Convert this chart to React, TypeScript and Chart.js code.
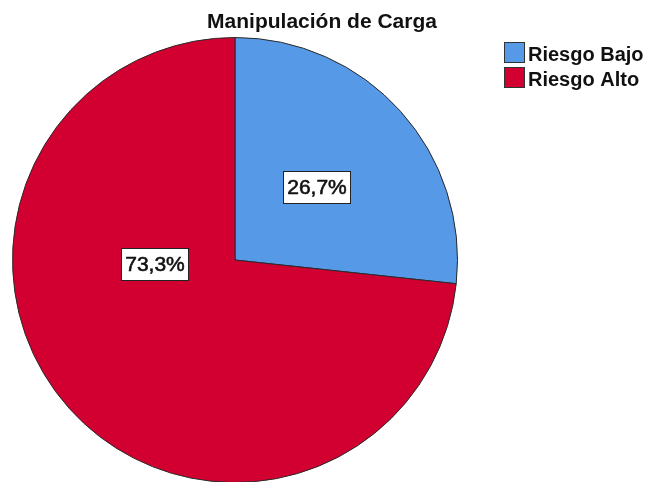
import React, { useEffect, useRef } from "react";
import { Chart, registerables } from "chart.js";

Chart.register(...registerables);

const title = "Manipulación de Carga";
const categories = ["Riesgo Bajo", "Riesgo Alto"];
const values = [26.7, 73.3];
const valueLabels = ["26,7%", "73,3%"];
const colors = ["#5699E6", "#D20030"];

const FONT = "'Liberation Sans', Arial, sans-serif";

const overlayPlugin = {
  id: "overlay",
  afterDraw(chart: any) {
    const ctx = chart.ctx as CanvasRenderingContext2D;
    const opts = chart.options.plugins.overlay;
    const meta = chart.getDatasetMeta(0);
    ctx.save();
    // value labels
    meta.data.forEach((arc: any, i: number) => {
      const p = arc.getProps(["x", "y", "startAngle", "endAngle", "outerRadius"], true);
      const ang = opts.labelAngles[i] != null ? opts.labelAngles[i] * Math.PI / 180 : (p.startAngle + p.endAngle) / 2;
      const r = p.outerRadius * opts.labelRadius[i];
      const cx = p.x + Math.cos(ang) * r;
      const cy = p.y + Math.sin(ang) * r;
      ctx.font = `21px ${FONT}`;
      const tw = ctx.measureText(valueLabels[i]).width;
      const w = Math.round(tw + 7);
      const h = 32;
      const x0 = Math.round(cx - w / 2) + 0.5;
      const y0 = Math.round(cy - h / 2) + 0.5;
      ctx.fillStyle = "#ffffff";
      ctx.fillRect(x0, y0, w, h);
      ctx.strokeStyle = "#222";
      ctx.lineWidth = 1;
      ctx.strokeRect(x0, y0, w, h);
      ctx.fillStyle = "#111";
      ctx.textAlign = "center";
      ctx.textBaseline = "middle";
      ctx.fillText(valueLabels[i], x0 + w / 2, y0 + h / 2 + 1);
      ctx.strokeStyle = "#111";
      ctx.lineWidth = 0.6;
      ctx.strokeText(valueLabels[i], x0 + w / 2, y0 + h / 2 + 1);
    });
    // title
    ctx.font = `bold 21px ${FONT}`;
    ctx.fillStyle = "#111";
    ctx.textAlign = "center";
    ctx.textBaseline = "alphabetic";
    ctx.fillText(title, 322, 28);
    // legend
    ctx.font = `bold 20px ${FONT}`;
    ctx.textAlign = "left";
    ctx.lineWidth = 1;
    categories.forEach((c, i) => {
      const y = 42 + i * 25;
      ctx.fillStyle = colors[i];
      ctx.fillRect(504.5, y + 0.5, 20, 20);
      ctx.strokeStyle = "#333";
      ctx.strokeRect(504.5, y + 0.5, 20, 20);
      ctx.fillStyle = "#111";
      ctx.fillText(c, 528, y + 19);
    });
    ctx.restore();
  },
};

export default function App() {
  const ref = useRef<HTMLCanvasElement>(null);
  useEffect(() => {
    document.body.style.margin = "0";
    const chart = new Chart(ref.current!, {
      type: "pie",
      data: {
        labels: categories,
        datasets: [
          {
            data: values,
            backgroundColor: colors,
            borderColor: "#2a2a2a",
            borderWidth: 1,
          },
        ],
      },
      options: {
        responsive: false,
        animation: false,
        events: [],
        layout: { padding: { left: 12, top: 37, right: 193, bottom: 0 } },
        plugins: {
          legend: { display: false },
          title: { display: false },
          tooltip: { enabled: false },
          overlay: { labelAngles: [null, 176.8], labelRadius: [0.492, 0.362] },
        } as any,
      },
      plugins: [overlayPlugin],
    });
    return () => chart.destroy();
  }, []);
  return (
    <div style={{ width: 651, height: 482, overflow: "hidden", background: "#fff" }}>
      <canvas ref={ref} width={651} height={483} style={{ display: "block" }} />
    </div>
  );
}
